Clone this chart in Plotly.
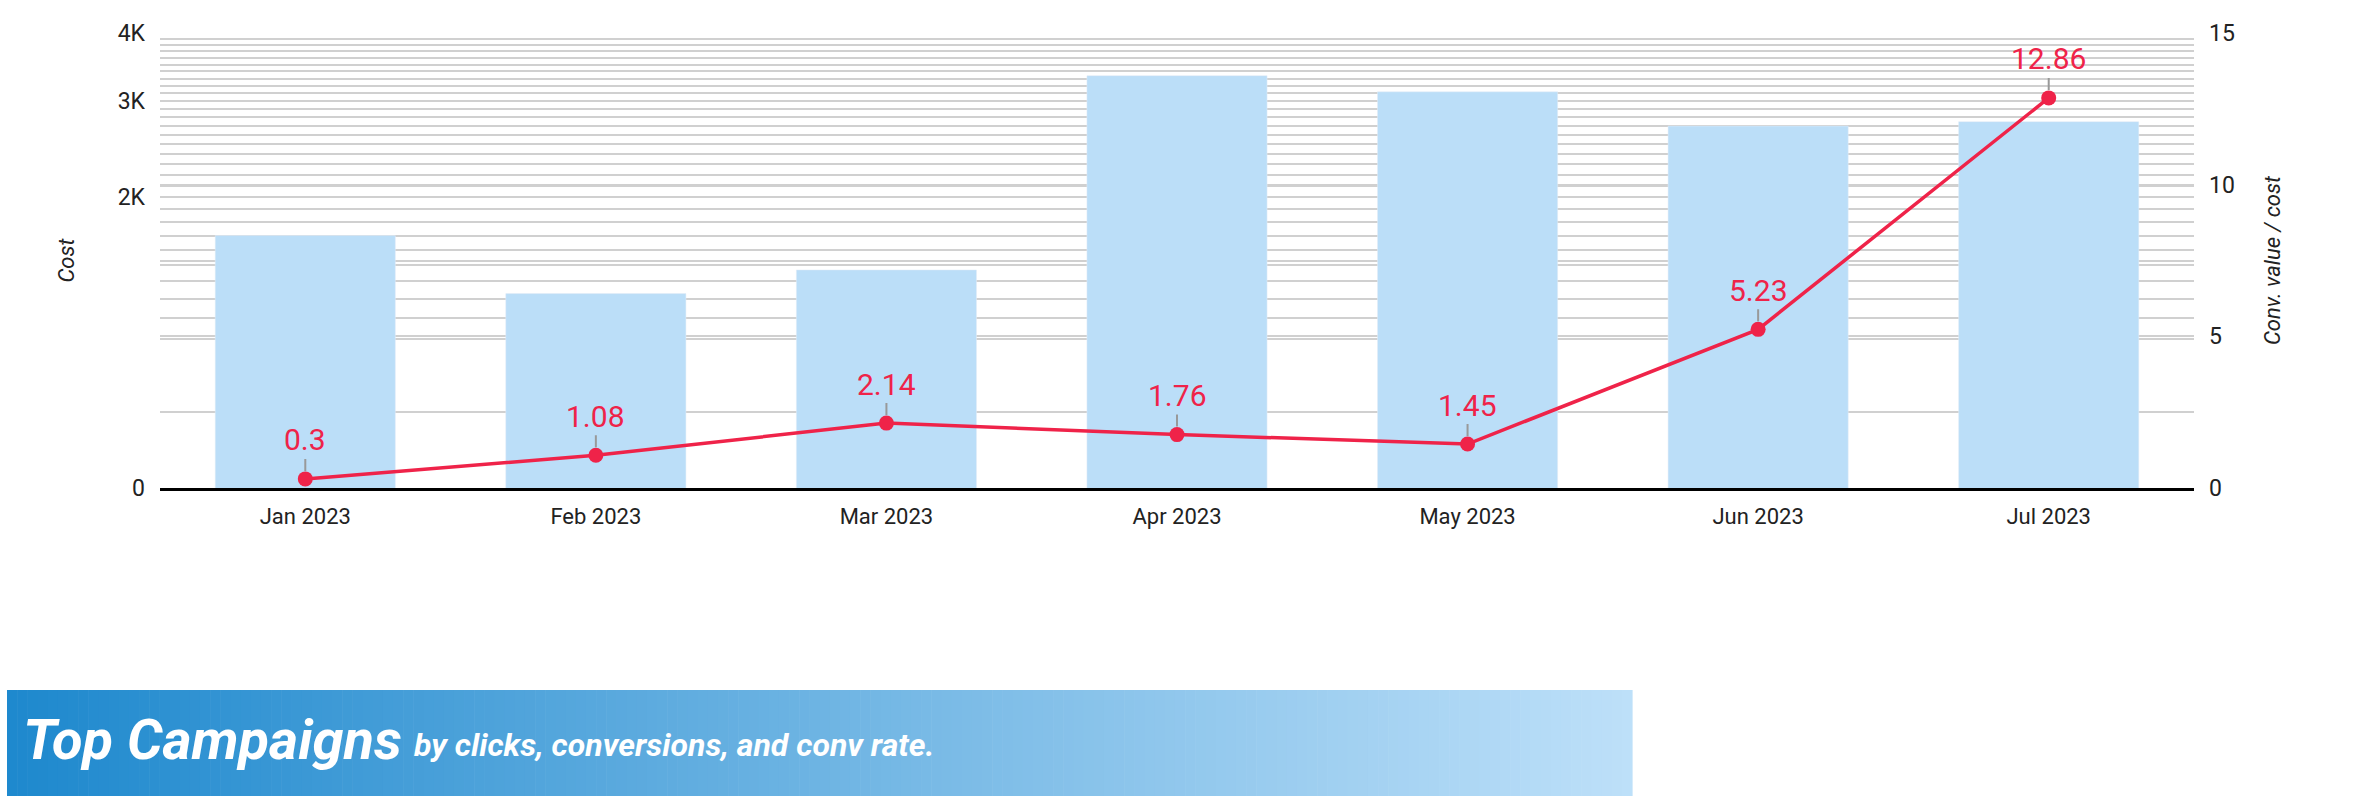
import numpy as np
import plotly.graph_objects as go


# chart data
months = ['Jan 2023', 'Feb 2023', 'Mar 2023', 'Apr 2023', 'May 2023', 'Jun 2023', 'Jul 2023']
cost = [1700, 1330, 1470, 3340, 3120, 2700, 2750]
conv_value_per_cost = [0.3, 1.08, 2.14, 1.76, 1.45, 5.23, 12.86]

cost_tick_vals = [585, 2000, 3000, 4000]
cost_tick_text = ['0', '2K', '3K', '4K']
ratio_tick_vals = [0, 5, 10, 15]

W, H = 2364, 796
ML, MR, MT, MB = 160, 170, 33, 308  # plot area in pixels

BAR_COLOR = '#bbdef8'
LINE_COLOR = '#ef2349'
GRID = '#d0d0d0'
FONT = 'Roboto'

fig = go.Figure()

fig.add_trace(go.Bar(x=months, y=cost, name='Cost', marker_color=BAR_COLOR,
                     width=0.62, yaxis='y', legendrank=2))
fig.add_trace(go.Scatter(x=months, y=conv_value_per_cost, name='Conv. value / cost',
                         mode='lines+markers', yaxis='y2', legendrank=1,
                         line=dict(color=LINE_COLOR, width=3.5),
                         marker=dict(color=LINE_COLOR, size=15)))

# value labels with short gray leader
for m, v in zip(months, conv_value_per_cost):
    fig.add_annotation(x=m, y=v, xref='x', yref='y2', text=f'{v:g}',
                       showarrow=True, arrowhead=0, arrowwidth=2, arrowcolor='#999999',
                       ax=0, ay=-39, standoff=8,
                       font=dict(family=FONT, size=30, color=LINE_COLOR))

# minor log grid (every 100 between 1100 and 4000)
minor_cost = [v for v in range(1100, 4000, 100) if v not in (2000, 3000)]

fig.update_layout(
    width=W, height=H,
    margin=dict(l=ML, r=MR, t=MT, b=MB, autoexpand=False),
    plot_bgcolor='white', paper_bgcolor='white',
    font=dict(family=FONT, size=22, color='#222222'),
    bargap=0.38,
    xaxis=dict(showline=True, linecolor='black', linewidth=2.5, ticks='',
               showgrid=False, tickfont=dict(size=22, color='#222222'),
               ticklabelstandoff=7),
    yaxis=dict(type='log', range=[np.log10(585), np.log10(4000)],
               tickmode='array', tickvals=cost_tick_vals, ticktext=cost_tick_text,
               showgrid=True, gridcolor=GRID, gridwidth=2, zeroline=False,
               tickfont=dict(size=23, color='#222222'), ticklabelstandoff=14,
               title=dict(text='<i>Cost</i>', font=dict(size=22, color='#222222'), standoff=36),
               minor=dict(tickmode='array', tickvals=minor_cost, showgrid=True,
                          gridcolor=GRID, gridwidth=2, ticks='')),
    yaxis2=dict(overlaying='y', side='right', range=[0, 15],
                tickmode='array', tickvals=ratio_tick_vals,
                showgrid=True, gridcolor=GRID, gridwidth=2, zeroline=False,
                tickfont=dict(size=23, color='#222222'), ticklabelstandoff=14,
                title=dict(text='<i>Conv. value / cost</i>', font=dict(size=22, color='#222222'),
                           standoff=30),
                minor=dict(dtick=2.5, showgrid=True, gridcolor=GRID, gridwidth=2, ticks='')),
    legend=dict(orientation='h', x=0.034, xanchor='left', y=1.048, yanchor='bottom',
                font=dict(size=22, color='#555555'), bgcolor='rgba(0,0,0,0)'),
    showlegend=True,
)

# gradient banner "Top Campaigns" drawn in pixel -> paper coordinates
def px_x(p):
    return (p - ML) / (W - ML - MR)


def px_y(p):
    return (H - MB - p) / (H - MT - MB)


c0 = np.array([30, 137, 206])
c1 = np.array([189, 224, 249])
x_start, x_end, y_top, y_bot = 7, 1632, 690, 796
n_strips = 160
edges = np.linspace(x_start, x_end, n_strips + 1)
for i in range(n_strips):
    t = i / (n_strips - 1)
    c = (c0 + (c1 - c0) * t).astype(int)
    fig.add_shape(type='rect', xref='paper', yref='paper',
                  x0=px_x(edges[i]), x1=px_x(edges[i + 1] + 0.6),
                  y0=px_y(y_bot), y1=px_y(y_top),
                  fillcolor=f'rgb({c[0]},{c[1]},{c[2]})', line_width=0, layer='above')

fig.add_annotation(xref='paper', yref='paper', x=px_x(21), y=px_y(740),
                   xanchor='left', yanchor='middle', showarrow=False,
                   text='<b><i>Top Campaigns</i></b>',
                   font=dict(family=FONT, size=56, color='white'))
fig.add_annotation(xref='paper', yref='paper', x=px_x(412), y=px_y(745),
                   xanchor='left', yanchor='middle', showarrow=False,
                   text='<b><i>by clicks, conversions, and conv rate.</i></b>',
                   font=dict(family=FONT, size=32, color='white'))

fig.write_html('out.html', config={'displayModeBar': False})

# drop the browser's default page margin so the figure sits at (0, 0)
with open('out.html', encoding='utf-8') as f:
    page = f.read()
page = page.replace('<body>', '<body style="margin:0">', 1)
with open('out.html', 'w', encoding='utf-8') as f:
    f.write(page)
